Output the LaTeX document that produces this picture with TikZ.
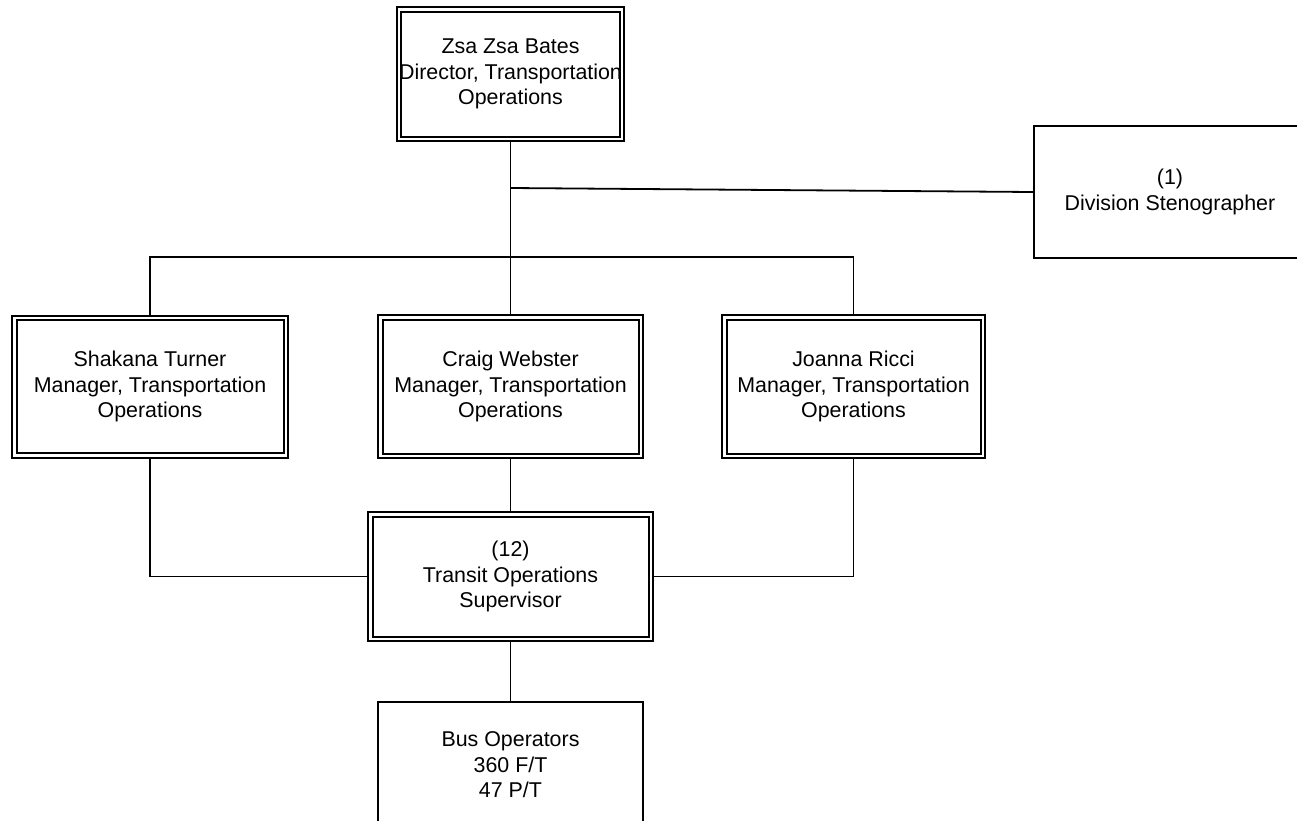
\documentclass[tikz,border=0pt]{standalone}
\usepackage{fontspec}
\setmainfont{Liberation Sans}
\begin{document}
\begin{tikzpicture}[x=1pt,y=-1pt,
  lbl/.style={align=center,font=\fontsize{21.4}{25.5}\selectfont,inner sep=0pt},
  dbl/.style={lbl,draw,double,double distance=2.5pt,line width=2pt,outer sep=3.25pt},
  sgl/.style={lbl,draw,line width=1.8pt,outer sep=0.9pt},
  conn/.style={line width=1.8pt}]
\useasboundingbox (0,0) rectangle (1297,820);
\node[dbl,minimum width=219.5pt,minimum height=129.5pt] (top) at (510.5,74) {Zsa Zsa Bates\\Director, Transportation\\Operations};
\node[sgl,minimum width=272.5pt,minimum height=132.5pt] (steno) at (1170,192) {(1)\\Division Stenographer};
\node[dbl,minimum width=271.5pt,minimum height=137.5pt] (shakana) at (150,386.5) {Shakana Turner\\Manager, Transportation\\Operations};
\node[dbl,minimum width=260.5pt,minimum height=138.5pt] (craig) at (510.5,386.5) {Craig Webster\\Manager, Transportation\\Operations};
\node[dbl,minimum width=258.5pt,minimum height=138.5pt] (joanna) at (853.5,386.5) {Joanna Ricci\\Manager, Transportation\\Operations};
\node[dbl,minimum width=280.5pt,minimum height=124.5pt] (sup) at (510.5,576.5) {(12)\\Transit Operations\\Supervisor};
\node[sgl,minimum width=264.5pt,minimum height=126.5pt] (bus) at (510.5,765) {Bus Operators\\360 F/T\\47 P/T};
\coordinate (j) at (510.5,188);
\coordinate (barl) at (150,257);
\coordinate (barr) at (853.5,257);
\draw[conn] (top.south) -- (craig.north);
\draw[conn] (j) -- (steno.west);
\draw[conn] (shakana.north) -- (barl) -- (barr) -- (joanna.north);
\draw[conn] (shakana.south) |- (sup.west);
\draw[conn] (joanna.south) |- (sup.east);
\draw[conn] (craig.south) -- (sup.north);
\draw[conn] (sup.south) -- (bus.north);
\end{tikzpicture}
\end{document}
